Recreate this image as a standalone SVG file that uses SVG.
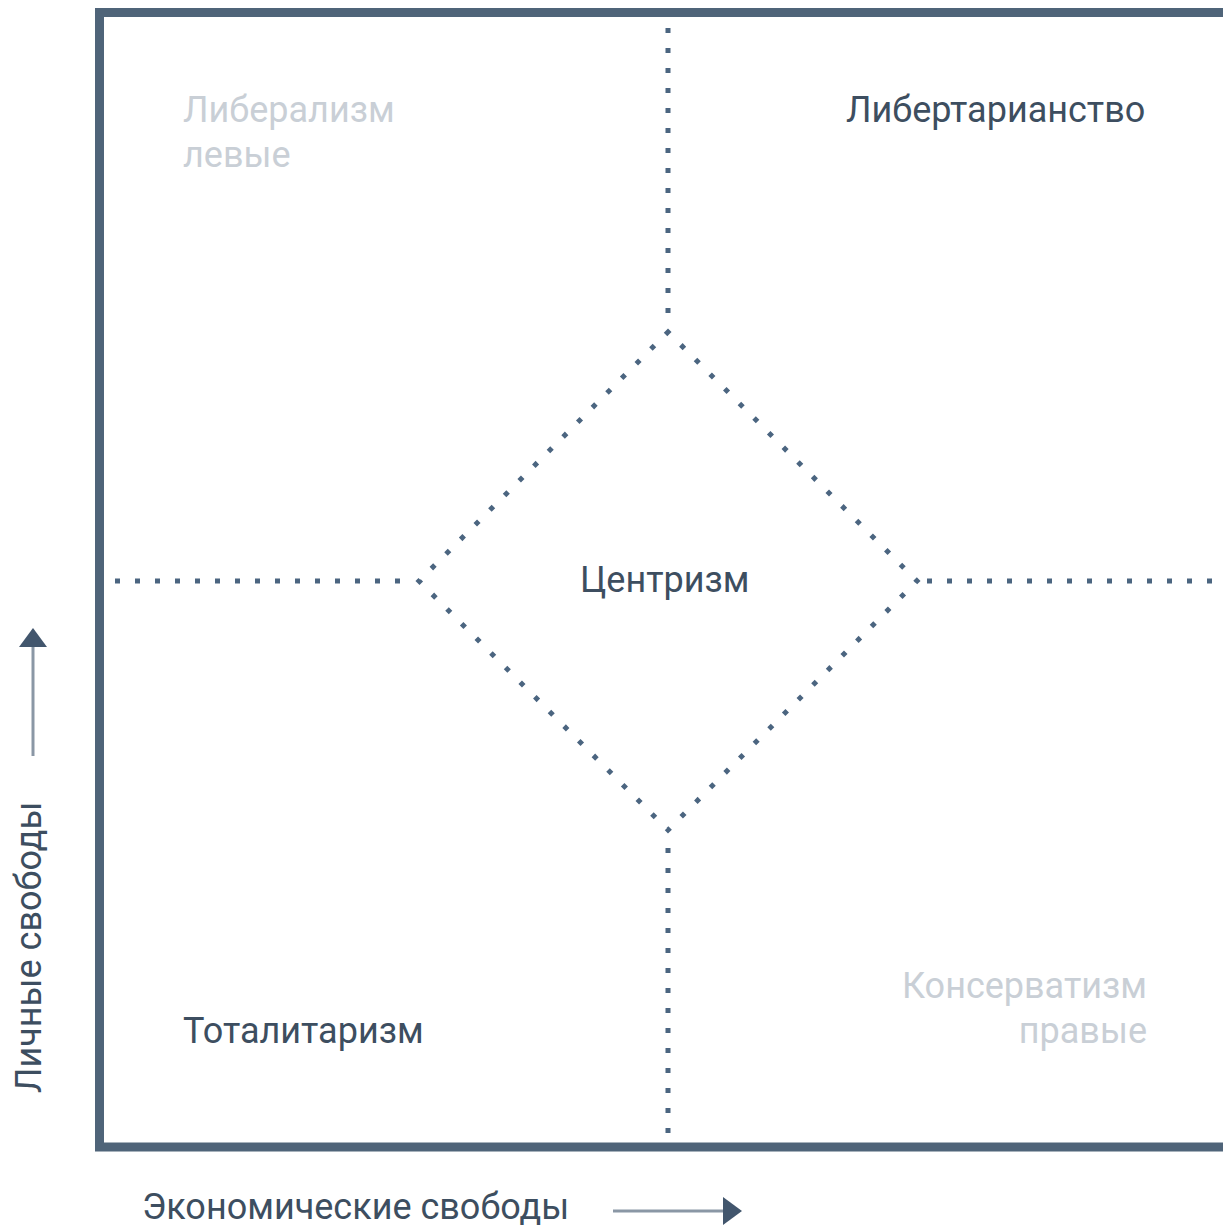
<svg xmlns="http://www.w3.org/2000/svg" width="1223" height="1228" viewBox="0 0 1223 1228">
<style>
.lbl{font-family:Roboto,"Liberation Sans",sans-serif;font-size:36px;fill:#3d4e60}
.faint{fill:#c9cfd6}
.dot{fill:none;stroke:#4b6580;stroke-width:5}
.ax{stroke:#8a97a5;stroke-width:3}
.head{fill:#42566d}
</style>
<rect width="1223" height="1228" fill="#ffffff"/>
<g id="frame"><rect x="99.5" y="12.5" width="1200" height="1134.5" fill="none" stroke="#4f6479" stroke-width="9"/></g>
<g id="connectors">
<line class="dot" x1="668" y1="28" x2="668" y2="320" stroke-dasharray="5 15"/>
<line class="dot" x1="668" y1="848" x2="668" y2="1140" stroke-dasharray="5 15"/>
<line class="dot" x1="115" y1="581" x2="410" y2="581" stroke-dasharray="5 15"/>
<line class="dot" x1="927" y1="581" x2="1223" y2="581" stroke-dasharray="5 15"/>
<path class="dot" d="M668 332 L917 581 L668 830 L419 581 Z" stroke-dasharray="5 15.7" stroke-dashoffset="2.5"/>
</g>
<g id="node-liberalism"><text class="lbl faint" x="183" y="122">Либерализм</text><text class="lbl faint" x="183" y="167">левые</text></g>
<g id="node-libertarianism"><text class="lbl" x="846" y="122">Либертарианство</text></g>
<g id="node-centrism"><text class="lbl" x="580" y="592">Центризм</text></g>
<g id="node-conservatism"><text class="lbl faint" x="1147" y="998" text-anchor="end">Консерватизм</text><text class="lbl faint" x="1147" y="1043" text-anchor="end">правые</text></g>
<g id="node-totalitarianism"><text class="lbl" x="183" y="1043">Тоталитаризм</text></g>
<g id="axis-x"><text class="lbl" x="142" y="1219">Экономические свободы</text><line class="ax" x1="613" y1="1211" x2="726" y2="1211"/><polygon class="head" points="723,1197 742,1211 723,1225"/></g>
<g id="axis-y"><text class="lbl" transform="translate(41,1093) rotate(-90)">Личные свободы</text><line class="ax" x1="33" y1="756" x2="33" y2="644"/><polygon class="head" points="19,647 33,628 47,647"/></g>
</svg>
